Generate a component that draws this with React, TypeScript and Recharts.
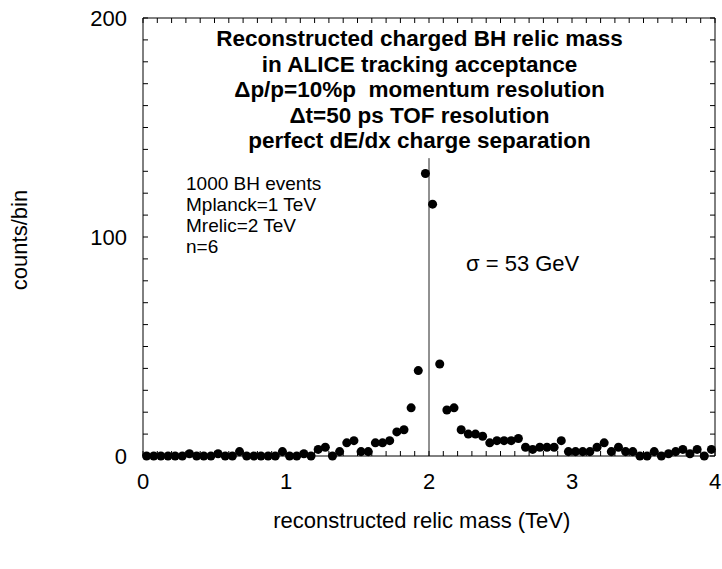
import { ReferenceLine, Scatter, ScatterChart, XAxis, YAxis, ZAxis } from "recharts"

// bin centres of the reconstructed mass histogram (TeV), 50 GeV bins
const mass = [
  0.025, 0.075, 0.125, 0.175, 0.225, 0.275, 0.325, 0.375, 0.425, 0.475,
  0.525, 0.575, 0.625, 0.675, 0.725, 0.775, 0.825, 0.875, 0.925, 0.975,
  1.025, 1.075, 1.125, 1.175, 1.225, 1.275, 1.325, 1.375, 1.425, 1.475,
  1.525, 1.575, 1.625, 1.675, 1.725, 1.775, 1.825, 1.875, 1.925, 1.975,
  2.025, 2.075, 2.125, 2.175, 2.225, 2.275, 2.325, 2.375, 2.425, 2.475,
  2.525, 2.575, 2.625, 2.675, 2.725, 2.775, 2.825, 2.875, 2.925, 2.975,
  3.025, 3.075, 3.125, 3.175, 3.225, 3.275, 3.325, 3.375, 3.425, 3.475,
  3.525, 3.575, 3.625, 3.675, 3.725, 3.775, 3.825, 3.875, 3.925, 3.975,
]

const counts = [
  0, 0, 0, 0, 0, 0, 1, 0, 0, 0,
  1, 0, 0, 2, 0, 0, 0, 0, 0, 2,
  0, 0, 1, 0, 3, 4, 0, 2, 6, 7,
  2, 2, 6, 6, 7, 11, 12, 22, 39, 129,
  115, 42, 21, 22, 12, 10, 10, 9, 6, 7,
  7, 7, 8, 4, 3, 4, 4, 4, 7, 2,
  2, 2, 2, 4, 6, 2, 4, 2, 2, 0,
  0, 2, 0, 1, 2, 3, 1, 3, 0, 3,
]

const xTicks = [0, 1, 2, 3, 4]
const yTicks = [0, 100, 200]
const xMinor = Array.from({ length: 41 }, (_, i) => i / 10)
const yMinor = Array.from({ length: 21 }, (_, i) => i * 10)

const relicMass = 2
const relicLineTop = 136

const titleLines = [
  "Reconstructed charged BH relic mass",
  "in ALICE tracking acceptance",
  "\u0394p/p=10%p\u00a0 momentum resolution",
  "\u0394t=50 ps TOF resolution",
  "perfect dE/dx charge separation",
]
const infoLines = ["1000 BH events", "Mplanck=1 TeV", "Mrelic=2 TeV", "n=6"]

const FONT = '"Liberation Sans", Arial, Helvetica, sans-serif'
const W = 722
const H = 569

const NoLabel = () => <g />

export default function App() {
  const data = mass.map((m, i) => ({ m, n: counts[i] }))
  const line = { stroke: "#000", strokeWidth: 1 }
  const tickText = { fill: "#000", fontSize: 22, fontFamily: FONT }

  return (
    <div style={{ position: "relative", width: W, height: H, fontFamily: FONT, color: "#000", overflow: "hidden" }}>
      <style>{"body { margin: 0; } svg.recharts-surface { overflow: visible; }"}</style>
      <ScatterChart width={W} height={H} margin={{ top: 18, right: 7, bottom: 43, left: 63 }}>
        <ZAxis range={[78, 78]} />
        {/* frame with inward minor ticks on all four sides */}
        <XAxis xAxisId="bminor" type="number" dataKey="m" domain={[0, 4]} ticks={xMinor} allowDataOverflow interval={0}
          mirror height={1} tick={NoLabel} tickSize={5} tickLine={line} axisLine={line} />
        <XAxis xAxisId="top" orientation="top" type="number" dataKey="m" domain={[0, 4]} ticks={xMinor} allowDataOverflow interval={0}
          mirror height={1} tick={NoLabel} tickSize={5} tickLine={line} axisLine={line} />
        <YAxis yAxisId="lminor" type="number" dataKey="n" domain={[0, 200]} ticks={yMinor} allowDataOverflow interval={0}
          mirror width={1} tick={NoLabel} tickSize={5} tickLine={line} axisLine={line} />
        <YAxis yAxisId="right" orientation="right" type="number" dataKey="n" domain={[0, 200]} ticks={yMinor} allowDataOverflow interval={0}
          mirror width={1} tick={NoLabel} tickSize={5} tickLine={line} axisLine={line} />

        <XAxis xAxisId="main" type="number" dataKey="m" domain={[0, 4]} ticks={xTicks} height={70} interval={0}
          tickSize={0} tickMargin={17} tickLine={false} axisLine={false} tick={tickText} />
        <YAxis yAxisId="main" type="number" dataKey="n" domain={[0, 200]} ticks={yTicks} width={80} interval={0}
          tickSize={0} tickMargin={16} tickLine={false} axisLine={false} tick={tickText} />

        {/* invisible copies so the tick-only axes get a scale */}
        <Scatter xAxisId="bminor" yAxisId="lminor" data={data} fill="none" isAnimationActive={false} />
        <Scatter xAxisId="top" yAxisId="right" data={data} fill="none" isAnimationActive={false} />

        <ReferenceLine xAxisId="main" yAxisId="main"
          segment={[{ x: relicMass, y: 0 }, { x: relicMass, y: relicLineTop }]}
          stroke="#222" strokeWidth={1} />
        <Scatter xAxisId="main" yAxisId="main" data={data} fill="#000" isAnimationActive={false} />
      </ScatterChart>

      <div style={{ position: "absolute", left: 419.5, top: 26, transform: "translateX(-50%)",
        whiteSpace: "nowrap", textAlign: "center", fontWeight: "bold", fontSize: 22.5, lineHeight: "25.5px" }}>
        {titleLines.map(t => <div key={t}>{t}</div>)}
      </div>

      <div style={{ position: "absolute", left: 186, top: 173, whiteSpace: "nowrap", fontSize: 19, lineHeight: "21px" }}>
        {infoLines.map(t => <div key={t}>{t}</div>)}
      </div>

      <div style={{ position: "absolute", left: 466, top: 251, whiteSpace: "nowrap", fontSize: 22, lineHeight: "26px" }}>
        {"\u03c3 = 53 GeV"}
      </div>

      <div style={{ position: "absolute", left: 421.8, top: 508, transform: "translateX(-50%)",
        whiteSpace: "nowrap", fontSize: 22, lineHeight: "26px" }}>
        reconstructed relic mass (TeV)
      </div>

      <div style={{ position: "absolute", left: 20, top: 240, transform: "translate(-50%, -50%) rotate(-90deg)",
        whiteSpace: "nowrap", fontSize: 22, lineHeight: "26px" }}>
        counts/bin
      </div>
    </div>
  )
}
